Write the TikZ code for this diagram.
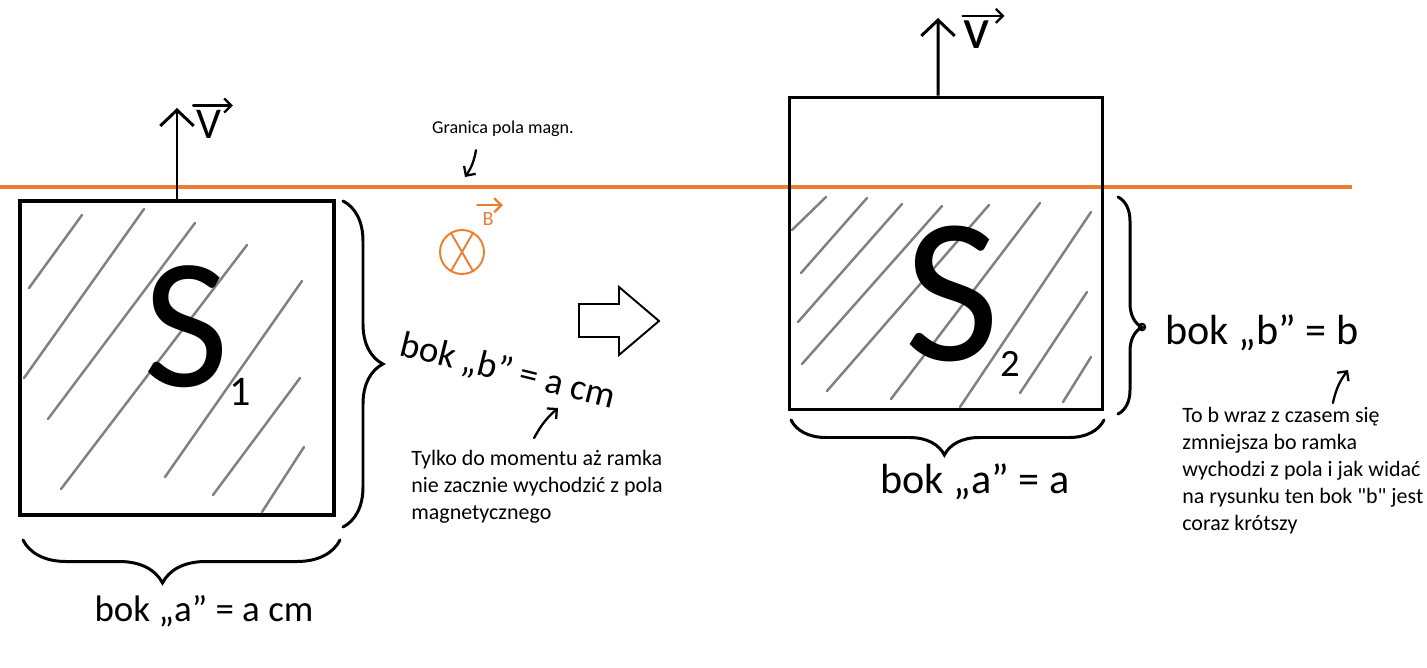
\documentclass[tikz,border=0pt]{standalone}
\usepackage{fontspec}
\setmainfont{Carlito}
\usetikzlibrary{arrows.meta,decorations.pathreplacing,calc}
\definecolor{fieldorange}{RGB}{237,125,49}
\definecolor{hatchgray}{RGB}{128,128,128}
\tikzset{
  frame/.style={draw, inner sep=0pt, minimum width=6.28cm},
  hatch/.style={hatchgray, line width=1.4pt, line cap=round},
  curly/.style={decorate, decoration={brace, amplitude=#1}, line width=1.7pt, line cap=round},
  velocity/.style={line width=1.7pt, -{Straight Barb[length=9pt,width=19pt,line width=1.7pt]}},
  pointer/.style={line width=1.3pt, line cap=round, -{Straight Barb[length=4pt,width=8pt,line width=1.3pt]}},
  hand/.style={font=\fontsize{21}{24}\selectfont, inner sep=0pt},
  bighand/.style={font=\fontsize{24}{27}\selectfont, inner sep=0pt},
  note/.style={font=\fontsize{12.5}{15.4}\selectfont, align=left, inner sep=0pt, anchor=north west},
}

\begin{document}
\begin{tikzpicture}[x=0.02cm,y=-0.02cm]
  \useasboundingbox (0,0) rectangle (1427,667);
  % field boundary
  \draw[fieldorange, line width=1.8pt] (0,187) -- (1352,187);
  \node[font=\fontsize{10.3}{12}\selectfont, inner sep=0pt] (border) at (503,129) {Granica pola magn.};
  \coordinate (borderhit) at (465,177);
  \draw[pointer] ([shift={(-27,13)}]border.south) to[bend left=12] (borderhit);

  % hatching
  \foreach \xa/\ya/\xb/\yb in {82/215/29/288,144/209/24/378,195/223/48/419,247/245/61/489,
      302/281/165/477,300/378/213/495,304/447/262/512,
      826/197/792/230,867/198/801/273,902/204/798/322,942/206/802/364,989/205/827/391,
      1040/203/891/399,1091/212/960/407,1087/292/1020/393,1091/357/1063/402}
    \draw[hatch] (\xa,\ya) -- (\xb,\yb);

  % frames
  \node[frame, line width=2.3pt, minimum height=6.28cm] (frame1) at (177,358) {};
  \node[frame, line width=1.7pt, minimum height=6.26cm] (frame2) at (946,253.5) {};
  \node[font=\fontsize{106}{106}\selectfont, inner sep=0pt] (area1) at (186,327) {S};
  \node[font=\fontsize{24}{24}\selectfont, inner sep=0pt] (sub1) at (240,392) {1};
  \node[font=\fontsize{118}{118}\selectfont, inner sep=0pt] (area2) at (952,294) {S};
  \node[font=\fontsize{22}{22}\selectfont, inner sep=0pt] (sub2) at (1010,364) {2};

  % velocities
  \coordinate (vtip1) at (177,108);
  \coordinate (vtip2) at (938,18);
  \draw[velocity] (frame1.north) -- (vtip1);
  \draw[velocity] ([xshift=-0.16cm]frame2.north) -- (vtip2);
  \node[font=\fontsize{25}{25}\selectfont, inner sep=0pt] (vlabel1) at (209,124) {V};
  \draw[pointer] ([shift={(-3,-4)}]vlabel1.north west) -- ([shift={(11,-4)}]vlabel1.north east);
  \node[font=\fontsize{33}{33}\selectfont, inner sep=0pt] (vlabel2) at (977,35) {v};
  \draw[pointer] ([shift={(-1,-5)}]vlabel2.north west) -- ([shift={(14,-5)}]vlabel2.north east);

  % magnetic field
  \node[circle, draw=fieldorange, line width=1.1pt, minimum size=0.88cm, inner sep=0pt] (bfield) at (462,252) {};
  \draw[fieldorange, line width=1.1pt] (bfield.120) -- (bfield.-60) (bfield.60) -- (bfield.-120);
  \node[fieldorange, font=\fontsize{11.5}{12}\selectfont, inner sep=0pt] (bvec) at (488,219) {B};
  \draw[fieldorange, pointer] ([shift={(-5,-7)}]bvec.north west) -- ([shift={(9,-7)}]bvec.north east);

  % braces and sides
  \draw[curly=0.8cm, decoration={aspect=0.5}] (343,201) -- (343,527);
  \draw[curly=0.86cm, decoration={aspect=0.56}] (340,540) -- (23,540);
  \draw[curly=0.48cm, decoration={aspect=0.6}] (1118,197) -- (1118,414);
  \draw[curly=0.7cm, decoration={aspect=0.51}] (1104,420) -- (791,420);
  \draw[line width=1.2pt] (1142,327) circle[radius=1.8pt];
  \node[hand, rotate=-14] (bside1) at (508,372) {bok „b” = a cm};
  \node[hand] (aside1) at (204,611) {bok „a” = a cm};
  \node[bighand] (bside2) at (1262,333) {bok „b” = b};
  \node[bighand] (aside2) at (975,482) {bok „a” = a};

  % transition arrow
  \draw[line width=1.1pt] (579,304) -- (619,304) -- (619,287) -- (659,321) -- (619,355) -- (619,337) -- (579,337) -- cycle;

  % notes
  \node[note] (note1) at (411,450) {Tylko do momentu aż ramka\\nie zacznie wychodzić z pola\\magnetycznego};
  \node[note] (note2) at (1182,407) {To b wraz z czasem się\\zmniejsza bo ramka\\wychodzi z pola i jak widać\\na rysunku ten bok \textquotedbl b\textquotedbl{} jest\\coraz krótszy};
  \coordinate (acm) at (558,408);
  \coordinate (bval) at (1348,370);
  \draw[pointer] ([shift={(-3,-12)}]note1.north) to[bend left=10] (acm);
  \draw[pointer] ([shift={(30,-4)}]note2.north) to[bend left=12] (bval);
\end{tikzpicture}
\end{document}
